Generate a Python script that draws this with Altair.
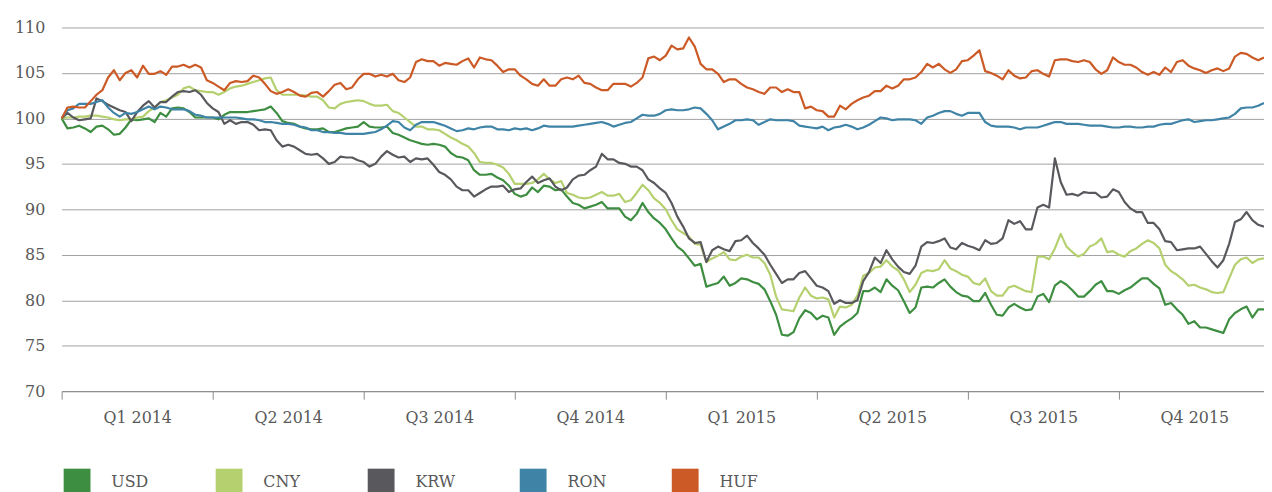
import altair as alt
import pandas as pd

FONT = "DejaVu Serif"
TEXT = "#595959"

QUARTER_LABELS = ["Q1 2014", "Q2 2014", "Q3 2014", "Q4 2014",
                  "Q1 2015", "Q2 2015", "Q3 2015", "Q4 2015"]
CURRENCIES = ["USD", "CNY", "KRW", "RON", "HUF"]
COLORS = ["#3E8E41", "#B5D06F", "#59585D", "#3F84A6", "#CB5A26"]

# index values (start = 100), read twice a week, Jan 2014 - Dec 2015
USD = [100.0, 98.9, 99.0, 99.2, 98.9, 98.5, 99.1, 99.2, 98.8, 98.2, 98.3, 99.0, 99.9, 99.8,
       99.9, 100.0, 99.6, 100.6, 100.2, 101.1, 101.2, 101.1, 100.7, 100.1, 100.1, 100.1,
       100.1, 99.9, 100.4, 100.7, 100.7, 100.7, 100.7, 100.8, 100.9, 101.0, 101.3, 100.6,
       99.7, 99.5, 99.4, 99.1, 98.9, 98.8, 98.8, 98.9, 98.5, 98.5, 98.7, 98.9, 99.0, 99.1,
       99.6, 99.1, 99.0, 99.0, 99.1, 98.4, 98.2, 97.9, 97.6, 97.4, 97.2, 97.1, 97.2, 97.1,
       96.9, 96.2, 95.8, 95.7, 95.4, 94.3, 93.8, 93.8, 93.9, 93.5, 93.2, 92.6, 91.7, 91.4,
       91.6, 92.4, 91.9, 92.6, 92.5, 92.1, 92.2, 91.4, 90.7, 90.5, 90.1, 90.3, 90.5, 90.8,
       90.1, 90.1, 90.1, 89.2, 88.8, 89.5, 90.7, 89.7, 89.0, 88.5,
       87.8, 86.8, 85.9, 85.4, 84.6, 83.8, 84.0, 81.5, 81.7, 81.9, 82.6, 81.6, 81.9, 82.4,
       82.3, 82.0, 81.8, 81.2, 79.9, 78.4, 76.2, 76.1, 76.5, 78.0, 78.9, 78.6, 77.9, 78.3,
       78.1, 76.2, 77.1, 77.6, 78.0, 78.6, 81.0, 81.0, 81.4, 80.9, 82.3, 81.6, 81.1, 79.9,
       78.6, 79.2, 81.4, 81.5, 81.4, 81.9, 82.3, 81.5, 80.9, 80.5,
       80.4, 79.9, 79.9, 80.8, 79.5, 78.4, 78.3, 79.2, 79.6, 79.2, 78.9, 79.0, 80.4, 80.7,
       79.8, 81.6, 82.1, 81.7, 81.1, 80.4, 80.4, 81.0, 81.7, 82.1, 81.0, 81.0, 80.7, 81.1,
       81.4, 81.9, 82.4, 82.4, 81.8, 81.3, 79.5, 79.7, 79.0, 78.4, 77.4, 77.7, 77.0, 77.0,
       76.8, 76.6, 76.4, 77.9, 78.6, 79.0, 79.3, 78.1, 79.0, 79.0]
CNY = [100.0, 100.1, 100.1, 100.2, 100.2, 100.3, 100.3, 100.2, 100.1, 99.9, 99.8, 99.9,
       99.9, 100.1, 100.2, 100.8, 101.2, 101.8, 102.0, 102.3, 102.6, 103.3, 103.5, 103.1,
       103.0, 102.9, 102.9, 102.6, 102.9, 103.3, 103.5, 103.6, 103.8, 104.0, 104.2, 104.4,
       104.5, 103.1, 102.6, 102.6, 102.6, 102.6, 102.5, 102.4, 102.4, 102.0, 101.2, 101.1,
       101.6, 101.8, 101.9, 102.0,
       101.9, 101.6, 101.4, 101.4, 101.5, 100.8, 100.6, 100.1, 99.6, 99.1, 99.1, 98.8,
       98.8, 98.7, 98.3, 97.9, 97.6, 97.2, 96.9, 96.2, 95.2, 95.1, 95.1, 94.9, 94.6, 93.9,
       92.8, 92.8, 92.8, 92.9, 93.3, 93.9, 93.3, 92.9, 93.1, 91.8, 91.6, 91.3, 91.2, 91.3,
       91.6, 91.9, 91.5, 91.5, 91.7, 90.8, 91.0, 91.8, 92.7, 92.1, 91.2, 90.7,
       90.0, 88.8, 87.8, 87.4, 87.0, 86.2, 86.1, 84.2, 84.6, 84.9, 85.3, 84.5, 84.4, 84.8,
       85.0, 84.7, 84.7, 84.1, 82.8, 80.4, 79.0, 78.9, 78.8, 80.3, 81.4, 80.5, 80.2, 80.3,
       80.1, 78.1, 79.3, 79.2, 79.5, 80.5, 82.7, 83.0, 83.6, 83.7, 84.4, 83.7, 83.3, 82.3,
       80.9, 81.7, 83.0, 83.3, 83.2, 83.4, 84.4, 83.5, 83.2, 82.8,
       82.6, 81.9, 81.7, 82.4, 81.0, 80.5, 80.5, 81.4, 81.6, 81.3, 81.0, 80.9, 84.8, 84.8,
       84.5, 85.7, 87.3, 85.9, 85.3, 84.8, 85.1, 85.9, 86.2, 86.8, 85.3, 85.4, 85.0, 84.8,
       85.4, 85.7, 86.2, 86.6, 86.3, 85.7, 83.9, 83.2, 82.8, 82.3, 81.6, 81.7, 81.4, 81.2,
       80.9, 80.8, 80.9, 82.4, 83.9, 84.5, 84.7, 84.1, 84.5, 84.6]
KRW = [100.0, 100.6, 100.1, 99.8, 99.9, 100.0, 102.2, 101.9, 101.5, 101.2, 100.9, 100.7,
       99.7, 100.7, 101.4, 101.9, 101.2, 101.8, 101.8, 102.4, 102.9, 103.0, 102.9, 103.1,
       102.6, 101.7, 101.1, 100.7, 99.4, 99.8, 99.4, 99.6, 99.6, 99.3, 98.7, 98.8, 98.7,
       97.6, 96.9, 97.1, 96.9, 96.5, 96.1, 96.0, 96.1, 95.6, 95.0, 95.2, 95.8, 95.7, 95.7,
       95.4,
       95.2, 94.7, 95.0, 95.8, 96.4, 96.0, 95.7, 95.8, 95.2, 95.6, 95.5, 95.6, 94.9, 94.1,
       93.8, 93.3, 92.5, 92.1, 92.1, 91.4, 91.8, 92.2, 92.5, 92.5, 92.6, 91.9, 92.2, 92.3,
       93.0, 93.6, 92.9, 93.2, 93.4, 92.5, 92.1, 92.4, 93.3, 93.7, 93.8, 94.3, 94.7, 96.1,
       95.5, 95.5, 95.1, 95.0, 94.7, 94.7, 94.3, 93.3, 92.9, 92.3,
       91.8, 90.7, 89.2, 88.1, 86.8, 86.3, 86.4, 84.2, 85.5, 85.9, 85.6, 85.4, 86.5, 86.6,
       87.1, 86.3, 85.7, 85.0, 83.9, 82.9, 81.9, 82.3, 82.3, 83.0, 83.2, 82.4, 81.6, 81.4,
       81.0, 79.6, 80.0, 79.7, 79.7, 80.0, 82.1, 83.1, 84.7, 84.1, 85.5, 84.5, 83.7, 83.1,
       82.9, 83.8, 85.9, 86.4, 86.3, 86.5, 86.8, 85.8, 85.6, 86.3,
       86.0, 85.8, 85.5, 86.6, 86.2, 86.3, 86.8, 88.8, 88.4, 88.7, 87.8, 87.8, 90.2, 90.5,
       90.2, 95.6, 93.0, 91.6, 91.7, 91.5, 91.9, 91.8, 91.8, 91.3, 91.4, 92.2, 91.9, 90.8,
       90.1, 89.7, 89.7, 88.5, 88.5, 87.8, 86.5, 86.4, 85.5, 85.6, 85.7, 85.7, 85.9, 85.1,
       84.3, 83.6, 84.4, 86.2, 88.6, 88.9, 89.7, 88.8, 88.3, 88.1]
RON = [100.0, 100.9, 101.1, 101.6, 101.6, 101.6, 101.8, 102.0, 101.2, 100.6, 100.2, 100.6,
       100.5, 100.7, 101.0, 101.3, 101.0, 101.3, 101.2, 101.0, 101.0, 101.0, 100.8, 100.4,
       100.3, 100.1, 100.1, 100.1, 100.1, 100.1, 100.1, 100.0, 99.9, 99.9, 99.8, 99.6,
       99.6, 99.5, 99.4, 99.4, 99.3, 99.1, 99.0, 98.7, 98.7, 98.5, 98.5, 98.4, 98.4, 98.3,
       98.3, 98.3,
       98.3, 98.4, 98.5, 98.8, 99.2, 99.7, 99.6, 99.0, 98.7, 99.3, 99.6, 99.6, 99.6, 99.4,
       99.2, 98.9, 98.6, 98.7, 98.9, 98.8, 99.0, 99.1, 99.1, 98.8, 98.8, 98.7, 98.9, 98.8,
       98.9, 98.7, 98.9, 99.2, 99.1, 99.1, 99.1, 99.1, 99.1, 99.2, 99.3, 99.4, 99.5, 99.6,
       99.4, 99.1, 99.3, 99.5, 99.6, 100.0, 100.4, 100.3, 100.3, 100.5,
       100.9, 101.0, 100.9, 100.9, 101.0, 101.2, 101.1, 100.5, 99.8, 98.8, 99.1, 99.4,
       99.8, 99.8, 99.9, 99.8, 99.3, 99.6, 99.9, 99.8, 99.8, 99.8, 99.7, 99.2, 99.1, 99.0,
       98.9, 99.1, 98.7, 99.0, 99.1, 99.3, 99.1, 98.8, 99.0, 99.3, 99.7, 100.1, 100.0, 99.8,
       99.9, 99.9, 99.9, 99.8, 99.4, 100.1, 100.3, 100.6, 100.8, 100.8, 100.5, 100.3,
       100.6, 100.6, 100.6, 99.6, 99.2, 99.1, 99.1, 99.1, 99.0, 98.8, 99.0, 99.0, 99.0,
       99.2, 99.4, 99.6, 99.6, 99.4, 99.4, 99.4, 99.3, 99.2, 99.2, 99.2, 99.1, 99.0, 99.0,
       99.1, 99.1, 99.0, 99.0, 99.1, 99.1, 99.3, 99.4, 99.4, 99.6, 99.8, 99.9, 99.6, 99.7,
       99.8, 99.8, 99.9, 100.0, 100.1, 100.5, 101.1, 101.2, 101.2, 101.4, 101.7]
HUF = [100.0, 101.2, 101.3, 101.2, 101.2, 101.9, 102.6, 103.1, 104.5, 105.3, 104.2, 105.0,
       105.3, 104.5, 105.8, 104.9, 104.9, 105.2, 104.8, 105.7, 105.7, 105.9, 105.6, 105.9,
       105.6, 104.2, 103.9, 103.5, 103.1, 103.9, 104.1, 104.0, 104.1, 104.7, 104.5, 103.8,
       103.0, 102.7, 102.9, 103.2, 102.9, 102.5, 102.4, 102.8, 102.9, 102.4, 103.0, 103.7,
       103.9, 103.2, 103.4, 104.3,
       104.9, 104.9, 104.6, 104.8, 104.6, 104.9, 104.2, 104.0, 104.5, 106.2, 106.5, 106.3,
       106.3, 105.8, 106.1, 106.0, 105.9, 106.3, 106.6, 105.6, 106.7, 106.5, 106.4, 105.8,
       105.1, 105.4, 105.4, 104.7, 104.3, 103.8, 103.6, 104.3, 103.6, 103.6, 104.3, 104.5,
       104.3, 104.7, 103.9, 103.8, 103.4, 103.1, 103.1, 103.8, 103.8, 103.8, 103.5, 103.9,
       104.5, 106.6, 106.8, 106.4,
       106.9, 108.0, 107.6, 107.7, 108.9, 107.9, 106.0, 105.4, 105.4, 104.9, 104.0, 104.3,
       104.3, 103.8, 103.4, 103.2, 102.9, 102.7, 103.4, 103.4, 102.9, 103.2, 102.9, 102.9,
       101.1, 101.3, 100.9, 100.8, 100.2, 100.2, 101.4, 101.0, 101.6, 102.0, 102.3, 102.5,
       103.0, 103.0, 103.6, 103.3, 103.6, 104.3, 104.3, 104.5, 105.1, 106.0, 105.6, 106.0,
       105.4, 105.0, 105.4, 106.3,
       106.4, 106.9, 107.5, 105.2, 105.0, 104.7, 104.3, 105.3, 104.7, 104.4, 104.5, 105.2,
       105.3, 104.9, 104.6, 106.4, 106.5, 106.5, 106.3, 106.2, 106.4, 106.2, 105.4, 104.9,
       105.3, 106.7, 106.2, 105.9, 105.9, 105.6, 105.1, 104.8, 105.1, 104.8, 105.6, 105.1,
       106.2, 106.4, 105.8, 105.5, 105.3, 105.0, 105.3, 105.5, 105.2, 105.5, 106.8, 107.2,
       107.1, 106.7, 106.4, 106.7]

SERIES = [USD, CNY, KRW, RON, HUF]

rows = []
for name, vals in zip(CURRENCIES, SERIES):
    for i, v in enumerate(vals):
        rows.append({"step": i, "value": v, "currency": name})
df = pd.DataFrame(rows)

STEPS_PER_Q = 26  # half-week steps per quarter
n_steps = len(USD)
tick_vals = [q * STEPS_PER_Q for q in range(len(QUARTER_LABELS))]
label_expr = ("[" + ",".join("'%s'" % q for q in QUARTER_LABELS) +
              "][round(datum.value/%d)]" % STEPS_PER_Q)

x_enc = alt.X("step:Q",
              scale=alt.Scale(domain=[0, n_steps - 1], nice=False, zero=False),
              axis=alt.Axis(values=tick_vals, labelExpr=label_expr, title=None, grid=False,
                            domainColor="#8a8a8a", tickColor="#8a8a8a", tickSize=8,
                            labelOffset=76, labelAlign="center", labelFlush=False,
                            labelPadding=11, labelFont=FONT, labelFontSize=16,
                            labelColor=TEXT, labelOverlap=False))
y_enc = alt.Y("value:Q",
              scale=alt.Scale(domain=[70, 110], nice=False, zero=False),
              axis=alt.Axis(values=list(range(70, 111, 5)), title=None, domain=False,
                            ticks=False, grid=True, gridColor="#a0a0a0", gridWidth=1,
                            labelPadding=17, labelFont=FONT, labelFontSize=16,
                            labelColor=TEXT))
color_scale = alt.Scale(domain=CURRENCIES, range=COLORS)

lines = alt.Chart(df).mark_line(strokeWidth=2.2, strokeJoin="round").encode(
    x=x_enc, y=y_enc,
    color=alt.Color("currency:N", scale=color_scale, sort=CURRENCIES, legend=None),
)

legend_layer = alt.Chart(df).mark_square(opacity=1, size=0).encode(
    x=x_enc, y=y_enc,
    color=alt.Color("currency:N", scale=color_scale, sort=CURRENCIES,
                    legend=alt.Legend(orient="none", legendX=2, legendY=444,
                                      direction="horizontal", columns=5, title=None,
                                      symbolType="square", symbolSize=729,
                                      symbolStrokeWidth=0, symbolOpacity=1,
                                      labelFont=FONT, labelFontSize=16, labelColor=TEXT,
                                      labelOffset=21, columnPadding=64,
                                      gridAlign="all", padding=0)),
)

chart = alt.layer(lines, legend_layer).resolve_legend(color="independent").properties(
    width=1210, height=366,
    padding={"left": 54, "top": 18, "right": 0, "bottom": 120},
    autosize=alt.AutoSizeParams(type="none"),
).configure_view(stroke=None)

chart.save("out.html", embed_options={"renderer": "svg", "actions": False})
